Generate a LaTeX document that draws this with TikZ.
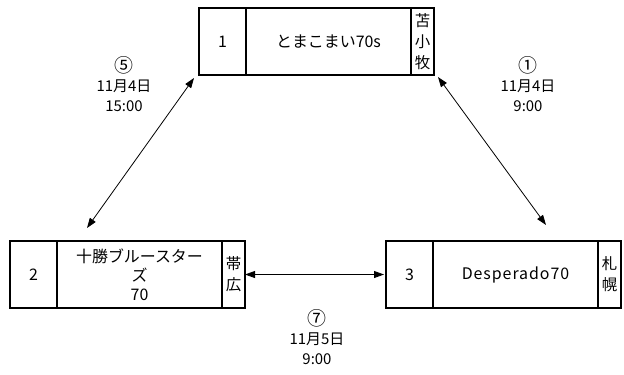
\documentclass[tikz,border=0pt]{standalone}
\usepackage{fontspec}
\setmainfont{Noto Sans CJK JP}
\usetikzlibrary{arrows.meta, calc, positioning}

\newcommand{\gameno}[1]{{\fontsize{19}{19.5}\selectfont #1}}

\tikzset{
    cell/.style = {draw, line width=1.5bp, inner sep=0pt, outer sep=0pt,
        minimum height=67bp, align=center, font=\fontsize{16}{19}\selectfont},
    numcell/.style = {cell, minimum width=47bp},
    namecell/.style = {cell, minimum width=165bp},
    citycell/.style = {cell, minimum width=23bp, font=\fontsize{15.5}{21}\selectfont},
    lbl/.style = {align=center, font=\fontsize{15}{19.5}\selectfont},
    conn/.style = {line width=0.8bp, {Triangle[length=10bp,width=7bp]}-{Triangle[length=10bp,width=7bp]}}
}

\begin{document}
\begin{tikzpicture}[x=1bp, y=-1bp]
    \useasboundingbox (0,0) rectangle (624,374);
    % teams
    \node[numcell, anchor=north west] (num1) at (199,8) {1};
    \node[namecell, right=0pt of num1] (name1) {とまこまい70s};
    \node[citycell, right=0pt of name1] (city1) {苫\\小\\牧};

    \node[numcell, anchor=north west] (num2) at (10,241) {2};
    \node[namecell, right=0pt of num2] (name2) {十勝ブルースター\\ズ\\70};
    \node[citycell, right=0pt of name2] (city2) {帯\\広};

    \node[numcell, anchor=north west] (num3) at (386,241) {3};
    \node[namecell, right=0pt of num3] (name3) {\addfontfeature{LetterSpace=6}Desperado70};
    \node[citycell, right=0pt of name3] (city3) {札\\幌};

    % games
    \coordinate (G5a) at ($(num1.south west)+(-5,3)$);
    \coordinate (G5b) at ($(name2.north west)+(30,-13)$);
    \coordinate (G1a) at ($(city1.south east)+(4,2)$);
    \coordinate (G1b) at ($(name3.north east)+(-52,-16)$);
    \draw[conn] (G5b) -- (G5a);
    \draw[conn] (G1a) -- (G1b);
    \draw[conn, shorten >=2bp] (city2.east) -- (num3.west);

    \node[lbl] (L5) at (124,84) {\gameno{⑤}\\11月4日\\15:00};
    \node[lbl] (L1) at (528,84) {\gameno{①}\\11月4日\\9:00};
    \node[lbl] (L7) at (317,337) {\gameno{⑦}\\11月5日\\9:00};
\end{tikzpicture}
\end{document}
